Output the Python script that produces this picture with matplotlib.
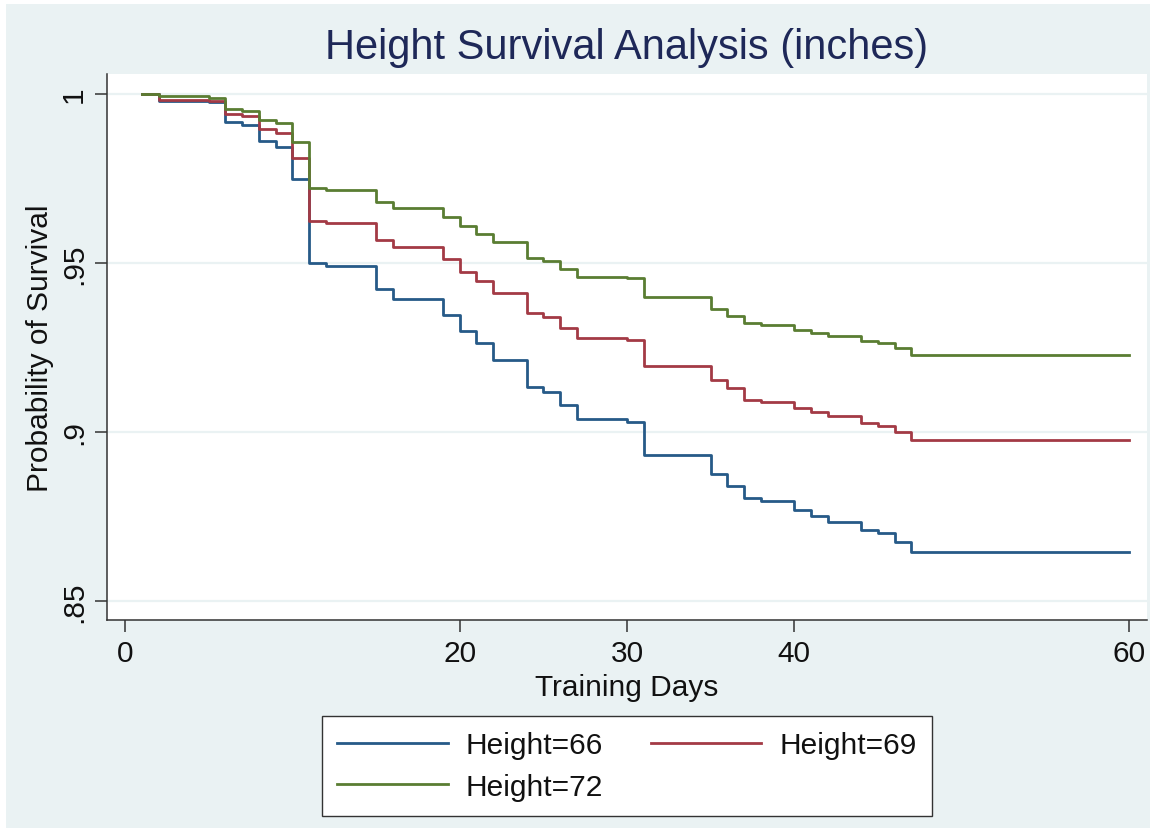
import matplotlib
matplotlib.use("Agg")
import matplotlib.pyplot as plt
from matplotlib.patches import Rectangle

plt.rcParams['font.family'] = ['Liberation Sans', 'DejaVu Sans']

# Kaplan-Meier step estimates by height group (days since start of training)
days = [1, 2, 5, 6, 7, 8, 9, 10, 11, 12, 15, 16, 19, 20, 21, 22, 24, 25, 26,
        27, 30, 31, 35, 36, 37, 38, 40, 41, 42, 44, 45, 46, 47, 60]

surv_66 = [1.0, 0.998, 0.9975, 0.9916, 0.9908, 0.9862, 0.9842, 0.9747, 0.9499,
           0.9492, 0.9423, 0.9393, 0.9347, 0.930, 0.9262, 0.9214, 0.9134, 0.9119,
           0.9079, 0.9039, 0.903, 0.8932, 0.8876, 0.8841, 0.8804, 0.8795, 0.8769,
           0.8752, 0.8735, 0.871, 0.870, 0.8674, 0.8644, 0.8644]

surv_69 = [1.0, 0.9983, 0.998, 0.9941, 0.9934, 0.9896, 0.9884, 0.981, 0.9623,
           0.9618, 0.9569, 0.9546, 0.9512, 0.9474, 0.9446, 0.9411, 0.9351, 0.9339,
           0.9309, 0.9277, 0.9273, 0.9196, 0.9154, 0.9129, 0.9096, 0.909, 0.9071,
           0.9058, 0.9046, 0.9027, 0.9019, 0.9001, 0.8975, 0.8975]

surv_72 = [1.0, 0.9993, 0.9988, 0.9954, 0.9949, 0.9924, 0.9914, 0.9859, 0.9721,
           0.9716, 0.968, 0.9662, 0.9635, 0.9609, 0.9586, 0.9561, 0.9515, 0.9507,
           0.9483, 0.946, 0.9455, 0.9399, 0.9364, 0.9344, 0.9322, 0.9317, 0.9303,
           0.9293, 0.9283, 0.927, 0.9262, 0.9249, 0.9228, 0.9228]

group_labels = ["Height=66", "Height=69", "Height=72"]
x_ticks = [0, 20, 30, 40, 60]
y_ticks = [0.85, 0.9, 0.95, 1.0]
y_tick_labels = [".85", ".9", ".95", "1"]

BG = "#EAF2F3"
colors = ["#265A88", "#A33A45", "#5A7D32"]

fig = plt.figure(figsize=(11.56, 8.29), dpi=100, facecolor="white")
fig.patches.append(Rectangle((6 / 1156, 0), (1150 - 6) / 1156, 1 - 5 / 829,
                             transform=fig.transFigure, facecolor=BG,
                             edgecolor="none", zorder=-10))

ax = fig.add_axes([107 / 1156, 1 - 621 / 829, 1040 / 1156, 546 / 829])
ax.set_facecolor("white")

lines = []
for ys, c, lab in zip([surv_66, surv_69, surv_72], colors, group_labels):
    ln, = ax.step(days, ys, where="post", color=c, lw=2.0, label=lab, zorder=3)
    lines.append(ln)

ax.set_xlim(-1.08, 61.08)
ax.set_ylim(0.8444, 1.0059)

ax.set_yticks(y_ticks)
ax.set_yticklabels(y_tick_labels, rotation=90, va="center")
ax.set_xticks(x_ticks)
ax.grid(axis="y", color=BG, lw=1.6, zorder=1)
ax.grid(axis="x", visible=False)

for side in ["top", "right"]:
    ax.spines[side].set_visible(False)
for side in ["left", "bottom"]:
    ax.spines[side].set_color("#333333")
    ax.spines[side].set_linewidth(1.1)

ax.tick_params(axis="both", length=8.6, width=1.1, color="#333333",
               labelsize=21.5, labelcolor="#111111")
ax.tick_params(axis="y", pad=5)
ax.tick_params(axis="x", pad=5)

ax.set_xlabel("Training Days", fontsize=21.5, color="#111111")
ax.xaxis.set_label_coords(0.5, -(688 - 621) / 546)
ax.xaxis.label.set_va("center")
ax.set_ylabel("Probability of Survival", fontsize=21.5, color="#111111")
ax.yaxis.set_label_coords(-(107 - 40) / 1040, 0.5)
ax.yaxis.label.set_va("center")

fig.text(627 / 1156, 1 - 48 / 829, "Height Survival Analysis (inches)",
         ha="center", va="center", fontsize=30, color="#1E2858")

# legend fills column by column, so order entries to read across rows
order = [0, 2, 1]
leg = fig.legend([lines[i] for i in order], [group_labels[i] for i in order],
                 loc="center", bbox_to_anchor=(627 / 1156, 1 - 767 / 829),
                 ncol=2, fontsize=21.5, frameon=True, fancybox=False,
                 framealpha=1.0, handlelength=3.7, handletextpad=0.6,
                 columnspacing=1.6, borderpad=0.5, labelspacing=0.45,
                 borderaxespad=0)
leg.get_frame().set_edgecolor("#333333")
leg.get_frame().set_linewidth(1.0)
leg.get_frame().set_facecolor("white")
for t in leg.get_texts():
    t.set_color("#111111")

fig.savefig("out.png", dpi=100, facecolor=fig.get_facecolor())
